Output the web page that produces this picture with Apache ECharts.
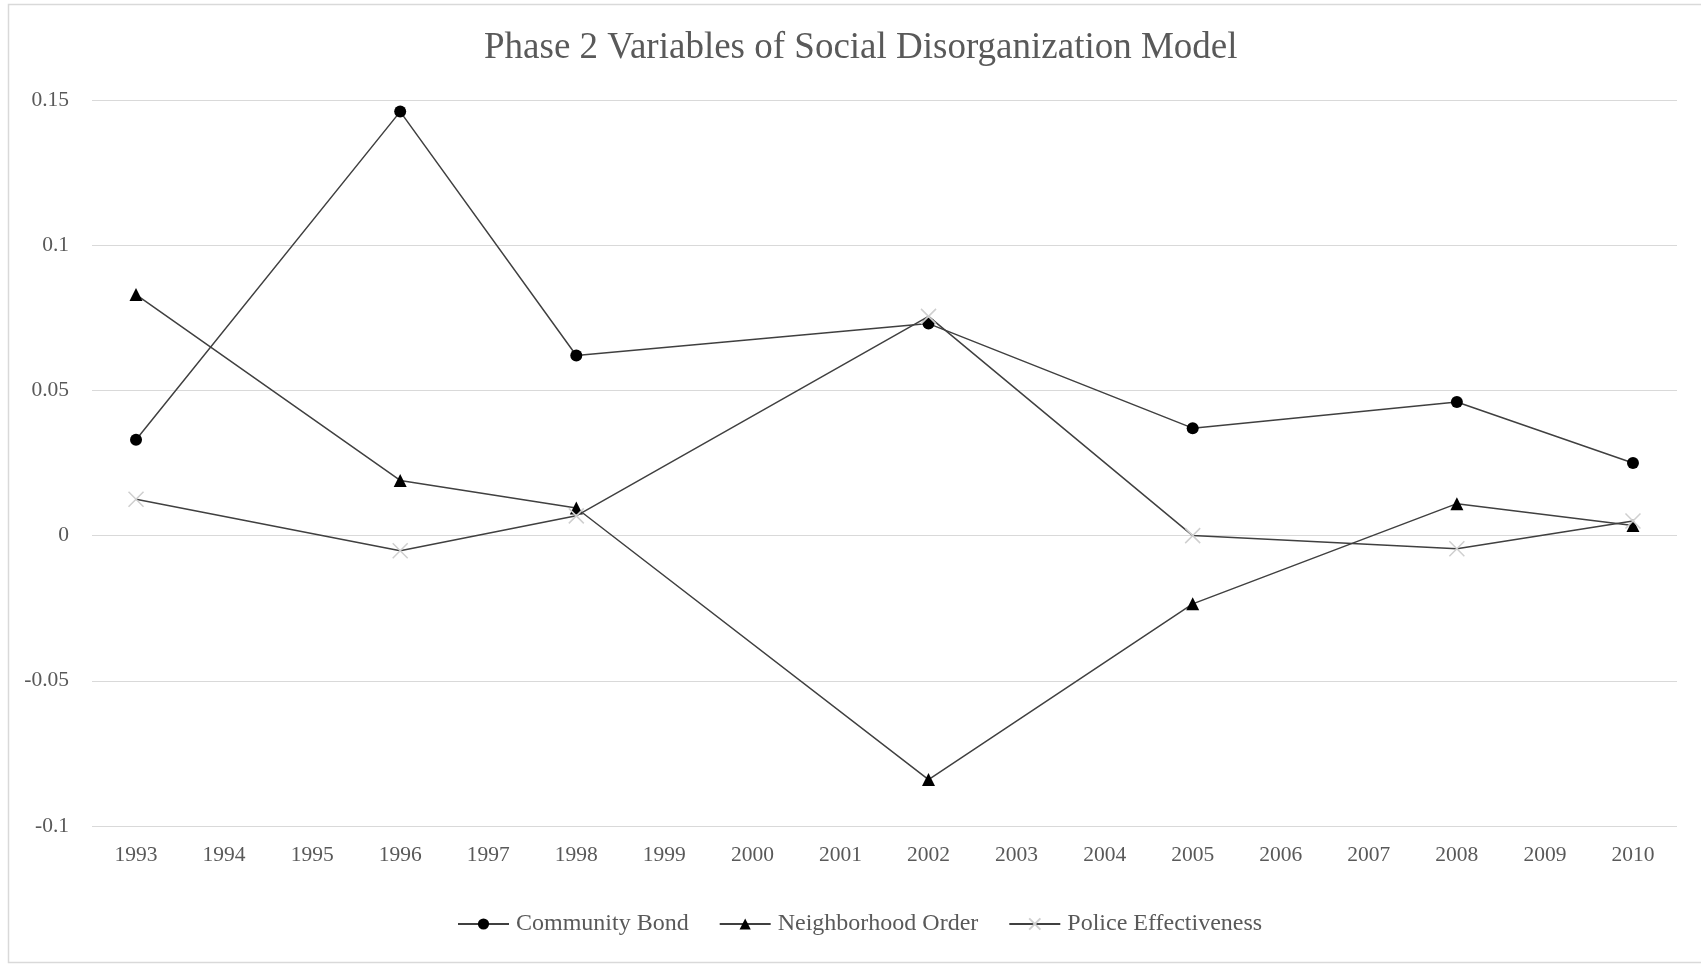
<!DOCTYPE html>
<html><head><meta charset="utf-8">
<script src="https://cdn.jsdelivr.net/npm/echarts@6/dist/echarts.min.js"></script>
<style>html,body{margin:0;padding:0;background:#fff;}#c{width:1701px;height:967px;}</style>
</head><body><div id="c"></div>
<script>
const years = ['1993','1994','1995','1996','1997','1998','1999','2000','2001','2002','2003','2004','2005','2006','2007','2008','2009','2010'];
const communityBond =      [0.033, null, null, 0.146, null, 0.062, null, null, null, 0.073, null, null, 0.037, null, null, 0.046, null, 0.025];
const neighborhoodOrder =  [0.083, null, null, 0.019, null, 0.0095, null, null, null, -0.084, null, null, -0.0235, null, null, 0.011, null, 0.0035];
const policeEffectiveness = [0.0125, null, null, -0.0052, null, 0.0068, null, null, null, 0.0755, null, null, 0.0, null, null, -0.0045, null, 0.005];
const yTicks = {min: -0.1, max: 0.15, interval: 0.05};

const font = '"Liberation Serif", "Times New Roman", serif';
const chart = echarts.init(document.getElementById('c'));
const lineStyle = {color: '#404040', width: 1.5};
chart.setOption({
  animation: false,
  backgroundColor: '#fff',
  graphic: [{type: 'rect', shape: {x: 8.5, y: 4.5, width: 1720, height: 958}, style: {fill: 'none', stroke: '#d9d9d9', lineWidth: 1.5}, silent: true}],
  title: {text: 'Phase 2 Variables of Social Disorganization Model', left: 479, top: 25,
    textStyle: {fontFamily: font, fontWeight: 'normal', fontSize: 37, color: '#595959'}},
  legend: {bottom: 26, left: 452, itemGap: 30, itemWidth: 51, itemHeight: 14,
    textStyle: {fontFamily: font, fontSize: 24, color: '#595959', padding: [0, 0, 0, 2]},
    data: ['Community Bond', 'Neighborhood Order', 'Police Effectiveness']},
  grid: {left: 92, right: 24, top: 100, bottom: 141},
  xAxis: {type: 'category', data: years, boundaryGap: true,
    axisLine: {show: false}, axisTick: {show: false},
    axisLabel: {fontFamily: font, fontSize: 21.5, color: '#595959', margin: 18},
    splitLine: {show: false}},
  yAxis: {type: 'value', min: yTicks.min, max: yTicks.max, interval: yTicks.interval,
    axisLine: {show: false}, axisTick: {show: false},
    axisLabel: {fontFamily: font, fontSize: 21.5, color: '#595959', margin: 23,
      formatter: v => { const r = Math.round(v * 100) / 100; return r === 0 ? '0' : String(r); }},
    splitLine: {lineStyle: {color: '#d9d9d9', width: 1.2}}},
  series: [
    {name: 'Community Bond', type: 'line', data: communityBond, connectNulls: true,
      symbol: 'circle', symbolSize: 12, lineStyle: lineStyle, itemStyle: {color: '#000'}, z: 3},
    {name: 'Neighborhood Order', type: 'line', data: neighborhoodOrder, connectNulls: true,
      symbol: 'triangle', symbolSize: 13, lineStyle: lineStyle, itemStyle: {color: '#000'}, z: 3},
    {name: 'Police Effectiveness', type: 'line', data: policeEffectiveness, connectNulls: true,
      symbol: 'path://M0,0L10,10M10,0L0,10', symbolSize: 15, lineStyle: lineStyle,
      itemStyle: {color: 'none', borderColor: '#cfcfcf', borderWidth: 1.5}, z: 4}
  ]
});
</script></body></html>
